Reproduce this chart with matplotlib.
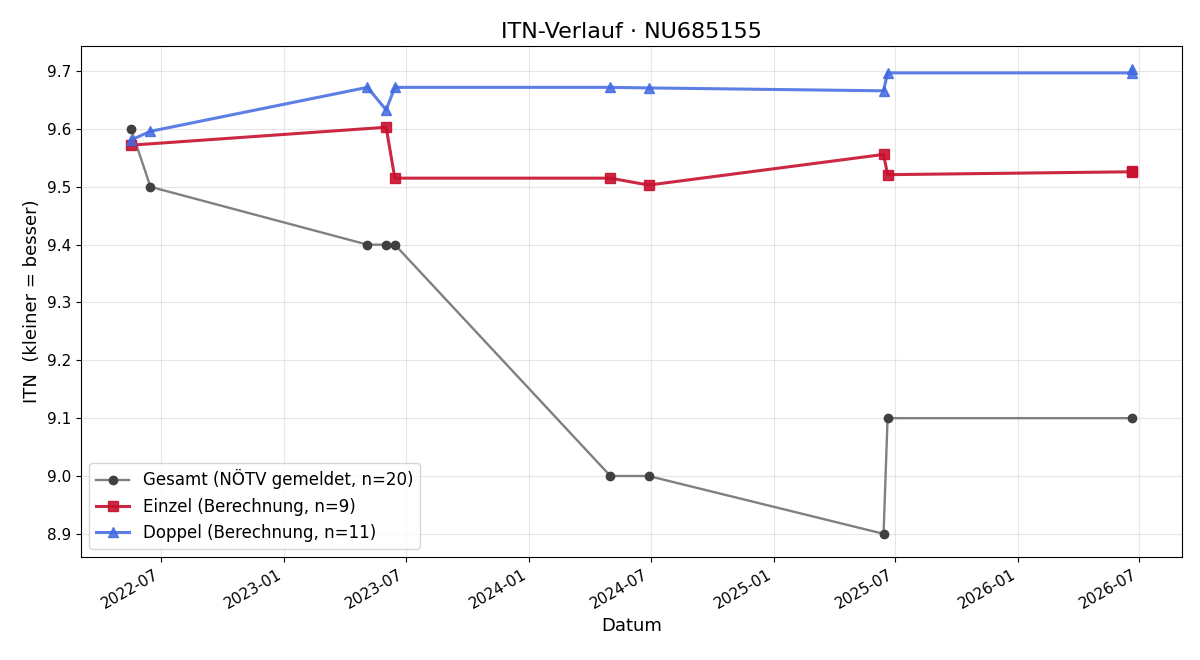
import numpy as np
import pandas as pd
import matplotlib
matplotlib.use("Agg")
import matplotlib.pyplot as plt
import matplotlib.dates as mdates

# Gesamt (gemeldet)
gesamt_dates = ["2022-05-17", "2022-06-15", "2023-05-05", "2023-06-02", "2023-06-15",
                "2024-05-02", "2024-06-28", "2025-06-14", "2025-06-20", "2026-06-20"]
gesamt_itn = [9.6, 9.5, 9.4, 9.4, 9.4, 9.0, 9.0, 8.9, 9.1, 9.1]

# Einzel (Berechnung)
einzel_dates = ["2022-05-17", "2023-06-02", "2023-06-15", "2024-05-02", "2024-06-28",
                "2025-06-14", "2025-06-20", "2026-06-20", "2026-06-20"]
einzel_itn = [9.572, 9.603, 9.515, 9.515, 9.503, 9.556, 9.521, 9.526, 9.527]

# Doppel (Berechnung)
doppel_dates = ["2022-05-17", "2022-06-15", "2023-05-05", "2023-06-02", "2023-06-15",
                "2024-05-02", "2024-06-28", "2025-06-14", "2025-06-20", "2026-06-20",
                "2026-06-20"]
doppel_itn = [9.581, 9.596, 9.672, 9.633, 9.672, 9.672, 9.671, 9.666, 9.697, 9.697, 9.703]

fig, ax = plt.subplots(figsize=(12, 6.6), dpi=100)

ax.plot(pd.to_datetime(gesamt_dates), gesamt_itn, color="gray", lw=1.7,
        marker="o", ms=6, mfc="#404040", mec="#404040",
        label="Gesamt (NÖTV gemeldet, n=20)")
ax.plot(pd.to_datetime(einzel_dates), einzel_itn, color="#c8102e", alpha=0.9, lw=2.2,
        marker="s", ms=7, label="Einzel (Berechnung, n=9)")
ax.plot(pd.to_datetime(doppel_dates), doppel_itn, color="#4169e1", alpha=0.85, lw=2.2,
        marker="^", ms=7, label="Doppel (Berechnung, n=11)")

ax.set_title("ITN-Verlauf · NU685155", fontsize=16)
ax.set_xlabel("Datum", fontsize=13)
ax.set_ylabel("ITN  (kleiner = besser)", fontsize=13)
ax.xaxis.set_major_locator(mdates.MonthLocator(bymonth=[1, 7]))
ax.xaxis.set_major_formatter(mdates.DateFormatter("%Y-%m"))
ax.tick_params(labelsize=11)
ax.grid(True, alpha=0.3)
ax.legend(loc="lower left", fontsize=12)
fig.autofmt_xdate()
fig.subplots_adjust(left=0.0675, right=0.985, top=0.930, bottom=0.156)
fig.savefig("out.png")
